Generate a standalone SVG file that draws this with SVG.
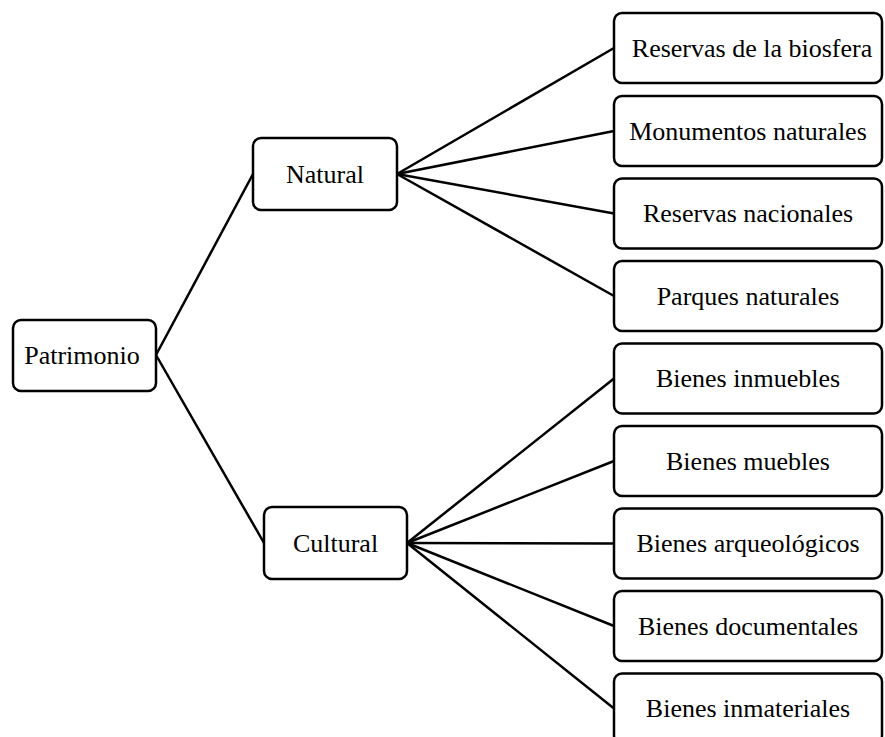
<svg xmlns="http://www.w3.org/2000/svg" width="885" height="737" viewBox="0 0 885 737">
<style>
rect{fill:#fff;stroke:#000;stroke-width:2.5}
text{font-family:"Liberation Serif","Times New Roman",serif;font-size:26px;fill:#000;text-anchor:middle;dominant-baseline:central}
#connectors line{stroke:#000;stroke-width:2.5}
</style>
<rect x="0" y="0" width="885" height="737" style="stroke:none;fill:#fff"/>
<g id="connectors">
<line x1="156" y1="355" x2="253" y2="174"/>
<line x1="156" y1="355" x2="264" y2="543"/>
<line x1="397" y1="174" x2="614" y2="48"/>
<line x1="397" y1="174" x2="614" y2="131"/>
<line x1="397" y1="174" x2="614" y2="213.5"/>
<line x1="397" y1="174" x2="614" y2="296"/>
<line x1="407" y1="543" x2="614" y2="378.5"/>
<line x1="407" y1="543" x2="614" y2="461"/>
<line x1="407" y1="543" x2="614" y2="543.5"/>
<line x1="407" y1="543" x2="614" y2="626"/>
<line x1="407" y1="543" x2="614" y2="708.5"/>
</g>
<g id="patrimonio"><rect x="13" y="320" width="143" height="71" rx="8"/><text x="82" y="355.5">Patrimonio</text></g>
<g id="natural"><rect x="253" y="138" width="144" height="72" rx="8"/><text x="325" y="174">Natural</text></g>
<g id="cultural"><rect x="264" y="507" width="143" height="72" rx="8"/><text x="335.5" y="543">Cultural</text></g>
<g id="reservas-biosfera"><rect x="614" y="13" width="268" height="70" rx="8"/><text x="752" y="48">Reservas de la biosfera</text></g>
<g id="monumentos"><rect x="614" y="96" width="268" height="70" rx="8"/><text x="748" y="131">Monumentos naturales</text></g>
<g id="reservas-nacionales"><rect x="614" y="178.5" width="268" height="70" rx="8"/><text x="748" y="213.5">Reservas nacionales</text></g>
<g id="parques"><rect x="614" y="261" width="268" height="70" rx="8"/><text x="748" y="296">Parques naturales</text></g>
<g id="inmuebles"><rect x="614" y="343.5" width="268" height="70" rx="8"/><text x="748" y="378.5">Bienes inmuebles</text></g>
<g id="muebles"><rect x="614" y="426" width="268" height="70" rx="8"/><text x="748" y="461">Bienes muebles</text></g>
<g id="arqueologicos"><rect x="614" y="508.5" width="268" height="70" rx="8"/><text x="748" y="543.5">Bienes arqueológicos</text></g>
<g id="documentales"><rect x="614" y="591" width="268" height="70" rx="8"/><text x="748" y="626">Bienes documentales</text></g>
<g id="inmateriales"><rect x="614" y="673.5" width="268" height="70" rx="8"/><text x="748" y="708.5">Bienes inmateriales</text></g>
</svg>
